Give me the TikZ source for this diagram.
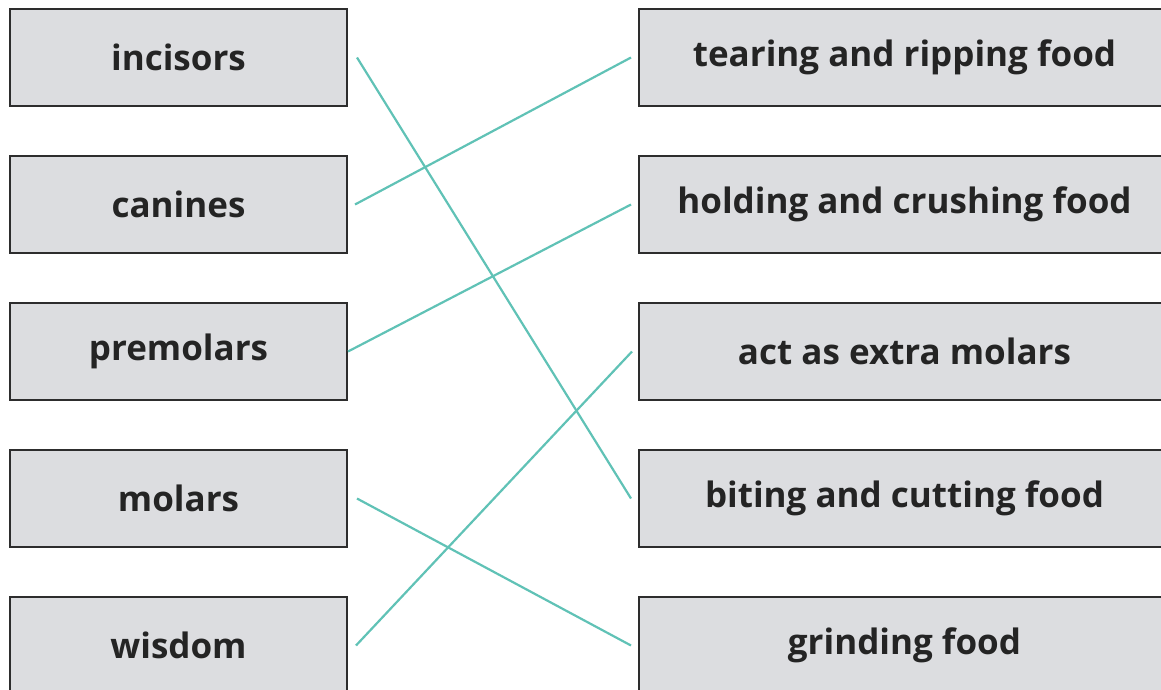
\documentclass[tikz,border=0pt]{standalone}
\usepackage{fontspec}
\setmainfont{Open Sans}
\usepackage{tikz}
\usetikzlibrary{positioning}
\usepackage{xcolor}
\definecolor{boxgray}{RGB}{220,221,224}
\definecolor{boxedge}{RGB}{45,45,45}
\definecolor{linkteal}{RGB}{96,194,182}

\begin{document}
\begin{tikzpicture}[x=1pt, y=-1pt,
  tooth/.style={draw=boxedge, fill=boxgray, line width=2pt,
    minimum width=337pt, minimum height=97pt, inner sep=0pt,
    font=\fontsize{35}{40}\selectfont\bfseries, text=boxedge!80!black},
  job/.style={tooth, minimum width=531pt},
  link/.style={linkteal, line width=2.2pt}]
  \useasboundingbox (0,0) rectangle (1161,689);
  % row spacing
  \def\L{178.5} \def\R{904.5} \def\S{147}
  % left column
  \node[tooth] (inc) at (\L, 57.5) {incisors};
  \node[tooth] (can) at (\L, 57.5+\S) {canines};
  \node[tooth] (pre) at (\L, 57.5+2*\S) {premolars};
  \node[tooth] (mol) at (\L, 57.5+3*\S) {molars};
  \node[tooth] (wis) at (\L, 57.5+4*\S) {wisdom};
  % right column
  \node[job] (tear) at (\R, 57.5) {tearing and ripping food};
  \node[job] (hold) at (\R, 57.5+\S) {holding and crushing food};
  \node[job] (act) at (\R, 57.5+2*\S) {act as extra molars};
  \node[job] (bite) at (\R, 57.5+3*\S) {biting and cutting food};
  \node[job] (grind) at (\R, 57.5+4*\S) {grinding food};
  % matches
  \draw[link] ([xshift=9pt]inc.east) -- ([xshift=-7pt]bite.west);
  \draw[link] ([xshift=7pt]can.east) -- ([xshift=-7pt]tear.west);
  \draw[link] (pre.east) -- ([xshift=-7pt]hold.west);
  \draw[link] ([xshift=9pt]mol.east) -- ([xshift=-7pt]grind.west);
  \draw[link] ([xshift=8pt]wis.east) -- ([xshift=-6pt]act.west);
\end{tikzpicture}
\end{document}
